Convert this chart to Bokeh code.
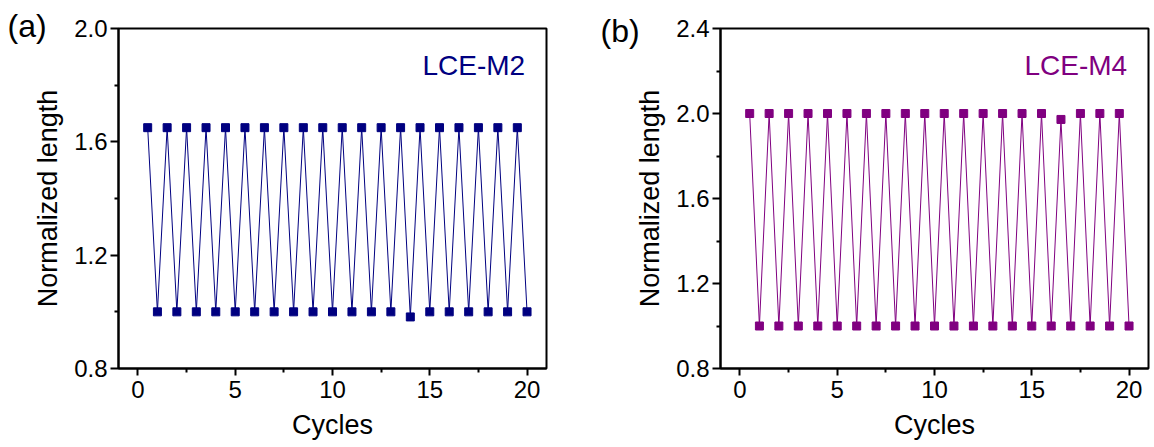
from bokeh.plotting import figure
from bokeh.layouts import row
from bokeh.models import Range1d, FixedTicker, Label, CustomJSTickFormatter
from bokeh.embed import file_html
from bokeh.resources import INLINE

# ---------------- data ----------------
cycles = [0.5, 1.0, 1.5, 2.0, 2.5, 3.0, 3.5, 4.0, 4.5, 5.0,
          5.5, 6.0, 6.5, 7.0, 7.5, 8.0, 8.5, 9.0, 9.5, 10.0,
          10.5, 11.0, 11.5, 12.0, 12.5, 13.0, 13.5, 14.0, 14.5, 15.0,
          15.5, 16.0, 16.5, 17.0, 17.5, 18.0, 18.5, 19.0, 19.5, 20.0]

len_m2 = [1.65, 1.00, 1.65, 1.00, 1.65, 1.00, 1.65, 1.00, 1.65, 1.00,
          1.65, 1.00, 1.65, 1.00, 1.65, 1.00, 1.65, 1.00, 1.65, 1.00,
          1.65, 1.00, 1.65, 1.00, 1.65, 1.00, 1.65, 0.982, 1.65, 1.00,
          1.65, 1.00, 1.65, 1.00, 1.65, 1.00, 1.65, 1.00, 1.65, 1.00]

len_m4 = [2.00, 1.00, 2.00, 1.00, 2.00, 1.00, 2.00, 1.00, 2.00, 1.00,
          2.00, 1.00, 2.00, 1.00, 2.00, 1.00, 2.00, 1.00, 2.00, 1.00,
          2.00, 1.00, 2.00, 1.00, 2.00, 1.00, 2.00, 1.00, 2.00, 1.00,
          2.00, 1.00, 1.972, 1.00, 2.00, 1.00, 2.00, 1.00, 2.00, 1.00]

x_ticks = [0, 5, 10, 15, 20]
x_minor = [2.5, 7.5, 12.5, 17.5]
y_ticks_a = [0.8, 1.2, 1.6, 2.0]
y_minor_a = [1.0, 1.4, 1.8]
y_ticks_b = [0.8, 1.2, 1.6, 2.0, 2.4]
y_minor_b = [1.0, 1.4, 1.8, 2.2]

FONT = "Liberation Sans"


def make_panel(y, color, yr, yticks, yminor, name,
               width, border_left, border_right, name_y):
    p = figure(width=width, height=447, output_backend="svg",
               toolbar_location=None,
               x_range=Range1d(-1, 21), y_range=Range1d(*yr),
               min_border_left=border_left, min_border_right=border_right,
               min_border_top=28, min_border_bottom=79)
    p.xgrid.visible = False
    p.ygrid.visible = False
    p.outline_line_color = "black"
    p.outline_line_width = 2
    p.outline_line_alpha = 1.0
    p.background_fill_color = "white"
    p.border_fill_color = "white"

    p.line(cycles, y, line_color=color, line_width=1)
    p.scatter(cycles, y, marker="square", size=8,
              fill_color=color, line_color=color)

    p.xaxis.ticker = FixedTicker(ticks=x_ticks, minor_ticks=x_minor)
    p.yaxis.ticker = FixedTicker(ticks=yticks, minor_ticks=yminor)
    p.yaxis.formatter = CustomJSTickFormatter(code="return tick.toFixed(1);")

    for ax in (p.xaxis[0], p.yaxis[0]):
        ax.axis_line_width = 2
        ax.major_tick_line_width = 2
        ax.minor_tick_line_width = 2
        ax.major_tick_in = 0
        ax.major_tick_out = 8
        ax.minor_tick_in = 0
        ax.minor_tick_out = 4
        ax.major_label_text_font = FONT
        ax.major_label_text_font_size = "24px"
        ax.major_label_text_color = "black"
        ax.axis_label_text_font = FONT
        ax.axis_label_text_font_size = "27px"
        ax.axis_label_text_font_style = "normal"
        ax.axis_label_text_color = "black"

    p.xaxis.axis_label = "Cycles"
    p.yaxis.axis_label = "Normalized length"
    p.xaxis.major_tick_out = 7
    p.xaxis.major_label_standoff = 5
    p.xaxis.axis_label_standoff = 9
    p.yaxis.major_label_standoff = 3
    p.yaxis.axis_label_standoff = 8

    p.add_layout(Label(x=19.9, y=name_y, text=name, text_align="right",
                       text_baseline="alphabetic", text_color=color,
                       text_font=FONT, text_font_size="28px"))
    return p


p1 = make_panel(len_m2, "#000080", (0.8, 2.0), y_ticks_a, y_minor_a,
                "LCE-M2", 565, 118, 19, 1.87)
p2 = make_panel(len_m4, "#800080", (0.8, 2.4), y_ticks_b, y_minor_b,
                "LCE-M4", 589, 155, 6, 2.225)

# panel letter (a): a title whose negative standoff keeps the top border small
p1.title.text = "(a)"
p1.title.align = "left"
p1.title.vertical_align = "bottom"
p1.title.offset = -111
p1.title.standoff = -30
p1.title.text_font = FONT
p1.title.text_font_size = "32px"
p1.title.text_font_style = "normal"
p1.title.text_color = "black"

# panel letter (b): drawn in an outer left border panel (not clipped by the frame)
p2.add_layout(Label(x=7, y=2.4706, x_units="screen", y_units="data",
                    text="(b)", text_align="left", text_baseline="top",
                    text_color="black", text_font=FONT,
                    text_font_size="32px"), "left")

layout = row(p1, p2)
open("out.html", "w").write(file_html(layout, INLINE))
